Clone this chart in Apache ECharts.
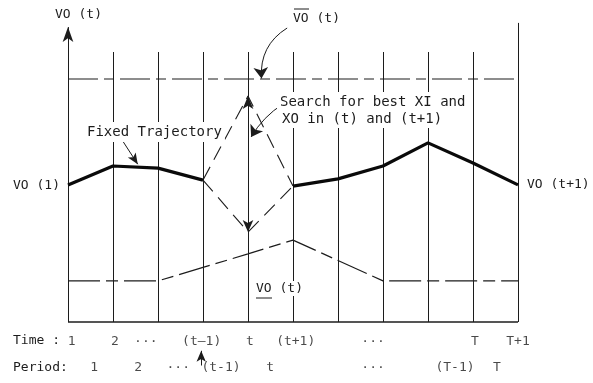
<!DOCTYPE html>
<html>
<head>
<meta charset="utf-8">
<script src="https://cdn.jsdelivr.net/npm/echarts@6/dist/echarts.min.js"></script>
<style>
html,body{margin:0;padding:0;background:#fff;}
#c{width:593px;height:383px;}
</style>
</head>
<body>
<div id="c"></div>
<script>
// ---- data ----
const timeIndex = [0,1,2,3,4,5,6,7,8,9,10];
const gridTops = [98.3, 90, 90, 90, 90, 90, 90, 90, 90, 90, 99.7];
const upperBound = [81, 81, 81, 81, 81, 81, 81, 81, 81, 81, 81];
const lowerBound = [13.7, 13.7, 13.7, 18.2, 22.7, 27.3, 20.5, 13.7, 13.7, 13.7, 13.7];
const fixedTrajectory = [45.7, 52, 51.3, 47.3, null, 45.3, 47.7, 52, 59.7, 53, 45.7];
const searchIndex = 4;
const searchHigh = 75.3;
const searchLow = 30;
const timeLabels = ['1', '2', '···', '(t–1)', 't', '(t+1)', '···', 'T', 'T+1'];
const timeLabelPos = [0.08, 1.04, 1.73, 2.97, 4.04, 5.06, 6.78, 9.04, 10.0];
const periodLabels = ['1', '2', '···', '(t-1)', 't', '···', '(T-1)', 'T'];
const periodLabelPos = [0.58, 1.56, 2.45, 3.4, 4.49, 6.78, 8.6, 9.53];
const timeRowY = -6.7;
const periodRowY = -15.3;

const INK = '#1c1c1c';
const FONT = 'DejaVu Sans Mono';

const chart = echarts.init(document.getElementById('c'), null, {renderer: 'canvas'});

const verticals = timeIndex.map((i) => [
  {coord: [i, 0], symbol: 'none'},
  {coord: [i, gridTops[i]], symbol: i === 0 ? 'arrow' : 'none', symbolSize: i === 0 ? [8, 15] : 0}
]);

function labelSeries(pos, labels, y) {
  return {
    type: 'scatter', silent: true, clip: false, animation: false,
    symbolSize: 0, z: 20,
    data: pos.map((x, k) => [x, y, labels[k]]),
    label: {
      show: true, position: 'inside', formatter: (p) => p.data[2],
      color: INK, fontFamily: FONT, fontSize: 13
    }
  };
}

const arrowLine = (a, b) => [
  {coord: a, symbol: 'none'},
  {coord: b, symbol: 'arrow', symbolSize: [7, 11]}
];

function curvedArrow(a, b, curveness) {
  return {
    type: 'lines', coordinateSystem: 'cartesian2d', silent: true, z: 6,
    polyline: false, clip: false,
    symbol: ['none', 'arrow'], symbolSize: [7, 11],
    lineStyle: {color: INK, width: 1, curveness: curveness, opacity: 1},
    effect: {show: false},
    data: [{coords: [a, b]}]
  };
}

const option = {
  backgroundColor: '#ffffff',
  animation: false,
  grid: {left: 68, right: 75, top: 22, bottom: 1},
  xAxis: {type: 'value', min: 0, max: 10, show: false},
  yAxis: {type: 'value', min: -20, max: 100, show: false},
  series: [
    {
      type: 'line', name: 'grid', data: [], silent: true, z: 1,
      markLine: {
        silent: true, animation: false, symbol: ['none', 'none'],
        label: {show: false},
        lineStyle: {color: INK, width: 1, type: 'solid'},
        data: verticals.concat([[
          {coord: [0, 0], symbol: 'none', lineStyle: {width: 1.6}},
          {coord: [10, 0], symbol: 'none'}
        ]])
      }
    },
    {
      type: 'line', name: 'upper', clip: false, silent: true, symbol: 'none', z: 2,
      data: timeIndex.map((i) => [i, upperBound[i]]),
      lineStyle: {color: INK, width: 1.2, type: [30, 6, 10, 6]}
    },
    {
      type: 'line', name: 'lower', clip: false, silent: true, symbol: 'none', z: 2,
      data: timeIndex.map((i) => [i, lowerBound[i]]),
      lineStyle: {color: INK, width: 1.2, type: [32, 6, 12, 6]}
    },
    {
      type: 'line', name: 'fixed', clip: false, silent: true, symbol: 'none', z: 5,
      connectNulls: false,
      data: timeIndex.map((i) => [i, fixedTrajectory[i]]),
      lineStyle: {color: '#0a0a0a', width: 3.2}
    },
    {
      type: 'line', name: 'searchHigh', clip: false, silent: true, symbol: 'none', z: 4,
      data: [[searchIndex - 1, fixedTrajectory[searchIndex - 1]], [searchIndex, searchHigh], [searchIndex + 1, fixedTrajectory[searchIndex + 1]]],
      lineStyle: {color: INK, width: 1.1, type: [15, 8]}
    },
    {
      type: 'line', name: 'searchLow', clip: false, silent: true, symbol: 'none', z: 4,
      data: [[searchIndex - 1, fixedTrajectory[searchIndex - 1]], [searchIndex, searchLow], [searchIndex + 1, fixedTrajectory[searchIndex + 1]]],
      lineStyle: {color: INK, width: 1.1, type: [15, 8]}
    },
    {
      type: 'line', data: [], silent: true, z: 6,
      markLine: {
        silent: true, animation: false, label: {show: false},
        lineStyle: {color: INK, width: 1, type: 'solid'},
        data: [
          [{coord: [searchIndex, searchHigh - 5], symbol: 'none'}, {coord: [searchIndex, searchHigh], symbol: 'arrow', symbolSize: [8, 13]}],
          [{coord: [searchIndex, searchLow + 5], symbol: 'none'}, {coord: [searchIndex, searchLow], symbol: 'arrow', symbolSize: [8, 12]}],
          arrowLine([1.2, 60.7], [1.55, 52.6]),
          arrowLine([2.96, -14.5], [2.96, -9.6])
        ]
      }
    },
    curvedArrow([4.78, 72.7], [4.07, 61.7], -0.12),
    curvedArrow([4.87, 98.0], [4.3, 81.2], -0.3),
    labelSeries(timeLabelPos, timeLabels, timeRowY),
    labelSeries(periodLabelPos, periodLabels, periodRowY)
  ],
  graphic: [
    {type: 'text', z: 30, left: 55, top: 8, style: {text: 'VO (t)', font: '13px "DejaVu Sans Mono"', fill: INK}},
    {type: 'text', z: 30, left: 84, top: 122, style: {text: 'Fixed Trajectory', font: '14px "DejaVu Sans Mono"', fill: INK, backgroundColor: '#fff', padding: [3, 3]}},
    {type: 'text', z: 30, left: 277, top: 92, style: {text: 'Search for best XI and', font: '14px "DejaVu Sans Mono"', fill: INK, backgroundColor: '#fff', padding: [3, 3]}},
    {type: 'text', z: 30, left: 279, top: 110, style: {text: 'XO in (t) and (t+1)', font: '14px "DejaVu Sans Mono"', fill: INK, backgroundColor: '#fff', padding: [2, 3]}},
    {type: 'text', z: 30, left: 293, top: 12, style: {text: 'VO (t)', font: '13px "DejaVu Sans Mono"', fill: INK}},
    {type: 'line', z: 30, shape: {x1: 294, y1: 9, x2: 309, y2: 9}, style: {stroke: INK, lineWidth: 1}},
    {type: 'text', z: 30, left: 13, top: 179, style: {text: 'VO (1)', font: '13px "DejaVu Sans Mono"', fill: INK}},
    {type: 'text', z: 30, left: 527, top: 178, style: {text: 'VO (t+1)', font: '13px "DejaVu Sans Mono"', fill: INK}},
    {type: 'text', z: 30, left: 255, top: 281, style: {text: 'VO (t)', font: '13px "DejaVu Sans Mono"', fill: INK, backgroundColor: '#fff', padding: [1, 1]}},
    {type: 'line', z: 31, shape: {x1: 256, y1: 298, x2: 272, y2: 298}, style: {stroke: INK, lineWidth: 1}},
    {type: 'text', z: 30, left: 13, top: 334, style: {text: 'Time :', font: '13px "DejaVu Sans Mono"', fill: INK}},
    {type: 'text', z: 30, left: 13, top: 361, style: {text: 'Period:', font: '13px "DejaVu Sans Mono"', fill: INK}}
  ]
};
chart.setOption(option);
</script>
</body>
</html>
